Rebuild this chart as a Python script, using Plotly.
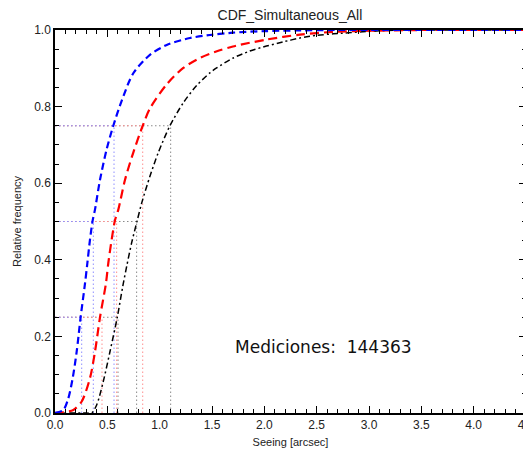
import plotly.graph_objects as go

# Blue CDF
blue_x = [0.0, 0.08, 0.127, 0.169, 0.207, 0.245, 0.287, 0.309, 0.334, 0.36, 0.382, 0.43, 0.493,
          0.557, 0.637, 0.748, 0.907, 1.067, 1.289, 1.48, 1.70, 2.0, 2.34, 2.7, 3.0, 3.5, 4.0, 4.5]
blue_y = [0.0, 0.008, 0.038, 0.091, 0.160, 0.250, 0.339, 0.391, 0.452, 0.503, 0.531, 0.609, 0.688,
          0.75, 0.815, 0.887, 0.935, 0.961, 0.979, 0.987, 0.993, 0.997, 0.999, 1.0, 1.0, 1.0, 1.0, 1.0]

# Red CDF
red_x = [0.0, 0.08, 0.175, 0.255, 0.334, 0.382, 0.43, 0.487, 0.509, 0.541, 0.573, 0.605, 0.669,
         0.748, 0.838, 0.907, 1.067, 1.226, 1.385, 1.54, 1.70, 2.02, 2.34, 2.66, 3.0, 3.5, 4.0, 4.5]
red_y = [0.0, 0.002, 0.008, 0.030, 0.091, 0.160, 0.250, 0.339, 0.391, 0.452, 0.503, 0.531, 0.609,
         0.68, 0.75, 0.795, 0.858, 0.901, 0.927, 0.944, 0.957, 0.975, 0.988, 0.995, 0.998, 1.0, 1.0, 1.0]

# Black CDF
black_x = [0.0, 0.30, 0.35, 0.398, 0.461, 0.525, 0.595, 0.647, 0.685, 0.732, 0.786, 0.828, 0.907,
           0.987, 1.098, 1.226, 1.353, 1.48, 1.544, 1.703, 1.862, 2.02, 2.18, 2.34, 2.50, 2.66,
           2.98, 3.3, 3.8, 4.5]
black_y = [0.0, 0.0, 0.0, 0.021, 0.082, 0.160, 0.250, 0.330, 0.383, 0.444, 0.503, 0.548, 0.618,
           0.68, 0.75, 0.81, 0.855, 0.888, 0.901, 0.927, 0.945, 0.958, 0.969, 0.979, 0.986, 0.990,
           0.996, 1.0, 1.0, 1.0]

# Quartiles (seeing at 25%, 50%, 75%)
quart_levels = [0.25, 0.5, 0.75]
blue_q = [0.255, 0.366, 0.564]
red_q = [0.449, 0.589, 0.838]
black_q = [0.602, 0.780, 1.105]

x_ticks = [0, 0.5, 1.0, 1.5, 2.0, 2.5, 3.0, 3.5, 4.0, 4.5]
x_labels = ["0.0", "0.5", "1.0", "1.5", "2.0", "2.5", "3.0", "3.5", "4.0", "4.5"]
y_ticks = [0, 0.2, 0.4, 0.6, 0.8, 1.0]
y_labels = ["0.0", "0.2", "0.4", "0.6", "0.8", "1.0"]

title_text = "CDF_Simultaneous_All"
count_label = "Mediciones:\u00a0 144363"

fig = go.Figure()

# quartile guide lines (dotted)
for qs, col in [(black_q, "#8a8a8a"), (red_q, "#ff8f8f"), (blue_q, "#8f8fff")]:
    for q, lev in zip(qs, quart_levels):
        fig.add_trace(go.Scatter(x=[0, q], y=[lev, lev], mode="lines",
                                 line=dict(color=col, width=1, dash="1.5px,2.5px"),
                                 hoverinfo="skip", showlegend=False))
        fig.add_trace(go.Scatter(x=[q, q], y=[0, lev], mode="lines",
                                 line=dict(color=col, width=1, dash="1.5px,2.5px"),
                                 hoverinfo="skip", showlegend=False))

fig.add_trace(go.Scatter(x=black_x, y=black_y, mode="lines", line_shape="spline",
                         line=dict(color="black", width=1.5, dash="6px,3px,2px,3px", smoothing=0.8),
                         showlegend=False))
fig.add_trace(go.Scatter(x=red_x, y=red_y, mode="lines", line_shape="spline",
                         line=dict(color="red", width=2.2, dash="9px,5px", smoothing=0.8),
                         showlegend=False))
fig.add_trace(go.Scatter(x=blue_x, y=blue_y, mode="lines", line_shape="spline",
                         line=dict(color="blue", width=2.2, dash="7px,4px", smoothing=0.8),
                         showlegend=False))

fig.add_annotation(x=1.70, y=0.173, xref="x", yref="y", text=count_label, showarrow=False,
                   xanchor="left", yanchor="middle",
                   font=dict(family="DejaVu Sans", size=17, color="#111111"))

axis_common = dict(showgrid=False, zeroline=False, showline=True, linecolor="black", linewidth=1.5,
                   mirror="ticks", ticks="inside", ticklen=7, tickwidth=1.2, tickcolor="black",
                   automargin=False, ticklabeloverflow="allow",
                   tickfont=dict(family="Liberation Sans", size=12, color="#222222"))

fig.update_xaxes(range=[0, 4.5], tickvals=x_ticks, ticktext=x_labels,
                 minor=dict(dtick=0.1, tick0=0, ticks="inside", ticklen=4, tickcolor="black", tickwidth=1),
                 title=dict(text="Seeing [arcsec]", font=dict(family="Liberation Sans", size=11, color="#222222"),
                            standoff=14),
                 **axis_common)
fig.update_yaxes(range=[0, 1.0], tickvals=y_ticks, ticktext=y_labels,
                 minor=dict(dtick=0.05, tick0=0, ticks="inside", ticklen=4, tickcolor="black", tickwidth=1),
                 title=dict(text="Relative frequency", font=dict(family="Liberation Sans", size=11, color="#222222"),
                            standoff=10),
                 **axis_common)

# the page body adds an 8px offset, so the figure is sized/placed to compensate
fig.update_layout(
    width=523, height=440,
    margin=dict(l=47, r=5, t=22, b=35),
    paper_bgcolor="white", plot_bgcolor="white",
    title=dict(text=title_text, x=0.539, xanchor="center", y=0.994, yanchor="top",
               font=dict(family="Liberation Sans", size=14, color="#222222")),
)

fig.write_html("out.html")
